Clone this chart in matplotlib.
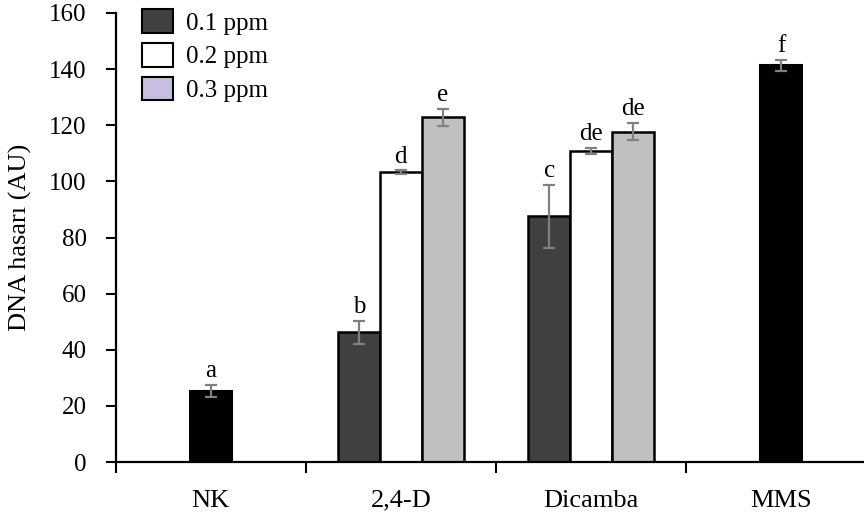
import numpy as np
import matplotlib
matplotlib.use("Agg")
import matplotlib.pyplot as plt
from matplotlib.patches import Patch

plt.rcParams["font.family"] = ["Liberation Serif", "DejaVu Serif"]

categories = ["NK", "2,4-D", "Dicamba", "MMS"]
doses = ["0.1 ppm", "0.2 ppm", "0.3 ppm"]

# controls (single bars)
control_idx = [0, 3]
control_vals = [25.3, 141.3]
control_err = [2.2, 2.0]
control_letters = ["a", "f"]

# herbicides x doses
herb_idx = [1, 2]
herb_vals = [[46.2, 103.3, 122.8],
             [87.5, 110.8, 117.7]]
herb_err = [[4.2, 0.6, 3.0],
            [11.3, 1.2, 3.0]]
herb_letters = [["b", "d", "e"],
                ["c", "de", "de"]]

dose_colors = ["#404040", "#ffffff", "#c0c0c0"]
legend_colors = ["#404040", "#ffffff", "#c8bfe0"]

fig = plt.figure(figsize=(8.64, 5.18), dpi=100)
ax = fig.add_axes([0.134, 0.108, 0.866, 0.867])

w = 0.22
err_kw = dict(ecolor="#808080", elinewidth=1.6, capsize=4, capthick=1.6)

for i, v, e, lt in zip(control_idx, control_vals, control_err, control_letters):
    ax.bar(i, v, width=w, color="black", edgecolor="black", linewidth=1.5,
           yerr=e, error_kw=err_kw, zorder=2)
    ax.text(i, v + e + 1.0, lt, ha="center", va="bottom", fontsize=18)

for k, i in enumerate(herb_idx):
    for j in range(3):
        x = i + (j - 1) * w
        v = herb_vals[k][j]
        e = herb_err[k][j]
        ax.bar(x, v, width=w, color=dose_colors[j], edgecolor="black",
               linewidth=1.8, yerr=e, error_kw=err_kw, zorder=2)
        ax.text(x, v + e + 1.0, herb_letters[k][j], ha="center", va="bottom",
                fontsize=18)

ax.set_xlim(-0.5, 3.437)
ax.set_ylim(0, 160)
ax.set_yticks(np.arange(0, 161, 20))
ax.tick_params(axis="y", direction="out", length=7, width=1.5, pad=14,
               labelsize=18)

# category boundary ticks, labels at centres
ax.set_xticks([-0.5, 0.5, 1.5, 2.5])
ax.set_xticklabels([])
ax.tick_params(axis="x", which="major", direction="out", length=8, width=1.5)
ax.set_xticks(range(len(categories)), minor=True)
ax.set_xticklabels(categories, minor=True, fontsize=19)
ax.tick_params(axis="x", which="minor", length=0, pad=20)

for s in ["top", "right"]:
    ax.spines[s].set_visible(False)
for s in ["left", "bottom"]:
    ax.spines[s].set_linewidth(1.6)

ax.set_ylabel("DNA hasarı (AU)", fontsize=19, labelpad=12)

handles = [Patch(facecolor=c, edgecolor="black", linewidth=1.5) for c in legend_colors]
ax.legend(handles, doses, loc="upper left", bbox_to_anchor=(0.022, 1.03),
          frameon=False, fontsize=18, handlelength=1.25, handleheight=1.05,
          handletextpad=0.5, labelspacing=0.35, borderaxespad=0)

fig.savefig("out.png", dpi=100)
